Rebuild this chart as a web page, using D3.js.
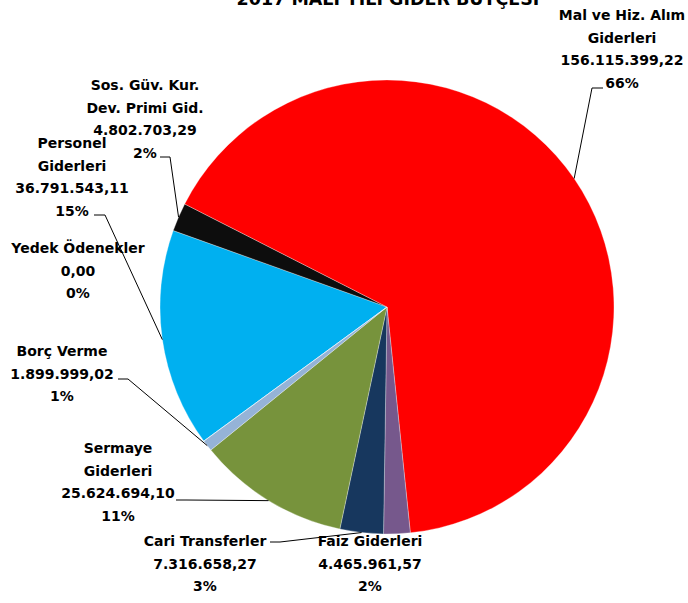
<!DOCTYPE html>
<html>
<head>
<meta charset="utf-8">
<script src="https://cdn.jsdelivr.net/npm/d3@7"></script>
<style>
  html, body { margin: 0; padding: 0; background: #fff; }
  svg text { font-family: "DejaVu Sans", sans-serif; font-weight: bold; fill: #000; }
</style>
</head>
<body>
<div id="chart"></div>
<script>
'use strict';

// data
const categories = [
    'Personel\nGiderleri',
    'Sos. Güv. Kur.\nDev. Primi Gid.',
    'Mal ve Hiz. Alım\nGiderleri',
    'Faiz Giderleri',
    'Cari Transferler',
    'Sermaye\nGiderleri',
    'Borç Verme',
    'Yedek Ödenekler'
];
const values = [36791543.11, 4802703.29, 156115399.22, 4465961.57, 7316658.27, 25624694.10, 1899999.02, 0];
const valueLabels = ['36.791.543,11', '4.802.703,29', '156.115.399,22', '4.465.961,57', '7.316.658,27', '25.624.694,10', '1.899.999,02', '0,00'];
const percentLabels = ['15%', '2%', '66%', '2%', '3%', '11%', '1%', '0%'];
const colors = ['#00B0F0', '#0D0D0D', '#FF0000', '#76588C', '#17375E', '#77933C', '#95B3D7', '#4BACC6'];
const title = '2017 MALİ YILI GİDER BÜTÇESİ';

// layout
const width = 688, height = 603;
const cx = 387, cy = 307, radius = 227;
const lineHeight = 22.7;
const startDeg = 233.8;

// label block centre x, first line centre y, leader stub [x0, x1, y] or null
const labelLayout = [
    { x: 72, y: 143, stub: [94, 105, 215] },
    { x: 145, y: 85, stub: [160, 170, 157] },
    { x: 622, y: 15, stub: [603, 592, 88] },
    { x: 370, y: 541, stub: null },
    { x: 205, y: 541, stub: [270, 280, 542] },
    { x: 118, y: 448, stub: [176, 186, 500] },
    { x: 62, y: 351, stub: [118, 128, 379] },
    { x: 78, y: 248, stub: null }
];

const svg = d3.select('#chart').append('svg')
    .attr('width', width)
    .attr('height', height);

svg.append('rect')
    .attr('width', width)
    .attr('height', height)
    .attr('fill', '#fff');

let start = startDeg * Math.PI / 180;
let pie = d3.pie()
    .sort(null)
    .startAngle(start)
    .endAngle(start + 2 * Math.PI)
    .value(d => d);

let arcs = pie(values);

let arc = d3.arc()
    .innerRadius(0)
    .outerRadius(radius);

let g = svg.append('g')
    .attr('transform', `translate(${cx}, ${cy})`);

g.selectAll('path')
    .data(arcs)
    .enter()
    .append('path')
    .attr('d', arc)
    .attr('fill', (d, i) => colors[i])
    .attr('stroke', '#fff')
    .attr('stroke-width', 0.5)
    .attr('stroke-opacity', 0.6);

// leader lines
arcs.forEach(function (d, i) {
    let s = labelLayout[i].stub;
    if (!s || d.value === 0) return;
    let mid = (d.startAngle + d.endAngle) / 2;
    let ex = cx + radius * Math.sin(mid);
    let ey = cy - radius * Math.cos(mid);
    svg.append('polyline')
        .attr('points', `${s[0]},${s[2]} ${s[1]},${s[2]} ${ex},${ey}`)
        .attr('fill', 'none')
        .attr('stroke', '#000')
        .attr('stroke-width', 1);
});

// labels
categories.forEach(function (c, i) {
    let lines = c.split('\n').concat([valueLabels[i], percentLabels[i]]);
    let L = labelLayout[i];
    let t = svg.append('text')
        .attr('text-anchor', 'middle')
        .attr('font-size', 14);
    lines.forEach(function (ln, j) {
        t.append('tspan')
            .attr('x', L.x)
            .attr('y', L.y + j * lineHeight + 5)
            .text(ln);
    });
});

svg.append('text')
    .text(title)
    .attr('text-anchor', 'middle')
    .attr('font-size', 17.5)
    .attr('x', 388)
    .attr('y', 5);
</script>
</body>
</html>
